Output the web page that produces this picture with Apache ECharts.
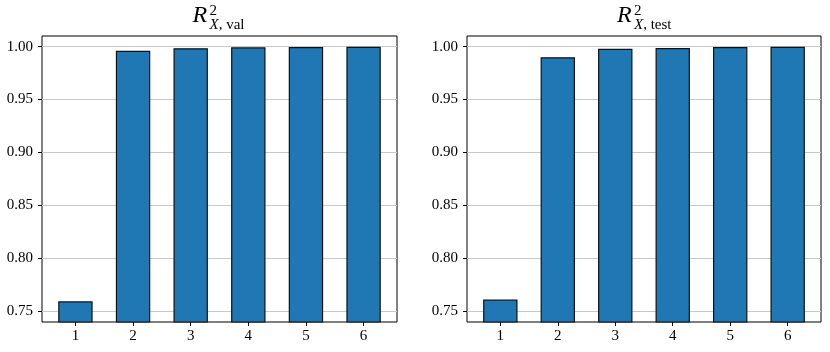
<!DOCTYPE html>
<html>
<head>
<meta charset="utf-8">
<script src="https://cdn.jsdelivr.net/npm/echarts@6/dist/echarts.min.js"></script>
<style>
  html, body { margin: 0; padding: 0; background: #fff; }
  #J_chart { width: 830px; height: 352px; }
</style>
</head>
<body>
<div id="J_chart"></div>
<script>
'use strict';

var categories = [1, 2, 3, 4, 5, 6];
var valScores = [0.7592, 0.9962, 0.9985, 0.9994, 0.9997, 0.9999];
var testScores = [0.7608, 0.9900, 0.9980, 0.9988, 0.9996, 0.9999];
var yTicks = [0.75, 0.80, 0.85, 0.90, 0.95, 1.00];
var titleSubs = ['X, val', 'X, test'];

var _font = 'Liberation Serif';
var _blue = '#1f77b4';

var panels = [
  {left: 42, width: 355, data: valScores},
  {left: 467, width: 354, data: testScores}
];

function buildTitle(p, sub) {
  var cx = p.left + p.width / 2;
  var x0 = cx - 27;
  return [
    {type: 'text', left: x0, top: 4, style: {
      text: 'R', font: 'italic 24px "' + _font + '"', fill: '#000'}},
    {type: 'text', left: x0 + 17, top: 4, style: {
      text: '2', font: '15px "' + _font + '"', fill: '#000'}},
    {type: 'text', left: x0 + 17, top: 18, style: {
      rich: {
        i: {fontFamily: _font, fontStyle: 'italic', fontSize: 15, fill: '#000'},
        r: {fontFamily: _font, fontSize: 15, fill: '#000'}
      },
      text: '{i|' + sub.split(',')[0] + '}{r|,' + sub.split(',')[1] + '}'
    }}
  ];
}

var chart = echarts.init(document.getElementById('J_chart'), null, {renderer: 'canvas'});

var option = {
  animation: false,
  grid: [],
  xAxis: [],
  yAxis: [],
  series: [],
  graphic: []
};

panels.forEach(function(p, i) {
  option.grid.push({
    left: p.left, top: 36, width: p.width, height: 286,
    show: true, borderColor: '#000', borderWidth: 1, backgroundColor: 'transparent'
  });
  option.xAxis.push({
    type: 'value', gridIndex: i, min: 0.42, max: 6.58,
    axisLine: {show: false},
    splitLine: {show: false},
    axisTick: {show: true, length: 4, lineStyle: {color: '#000'}, customValues: categories},
    axisLabel: {color: '#000', fontFamily: _font, fontSize: 15, margin: 7, customValues: categories}
  });
  option.yAxis.push({
    type: 'value', gridIndex: i, min: 0.7396, max: 1.0101,
    axisLine: {show: false},
    splitLine: {show: false},
    axisTick: {show: true, length: 4, lineStyle: {color: '#000'}, customValues: yTicks},
    axisLabel: {
      color: '#000', fontFamily: _font, fontSize: 15, margin: 9, customValues: yTicks,
      formatter: function(v){ return v.toFixed(2); }
    }
  });
  option.series.push({
    type: 'bar',
    xAxisIndex: i, yAxisIndex: i,
    barWidth: 34.4,
    z: 3,
    itemStyle: {color: _blue, borderColor: '#111', borderWidth: 1.2},
    data: categories.map(function(c, k){ return [c, p.data[k]]; }),
    markLine: {
      silent: true, symbol: 'none', z: 1,
      label: {show: false},
      lineStyle: {color: '#c8c8c8', width: 1, type: 'solid'},
      data: yTicks.map(function(t){ return {yAxis: t}; })
    }
  });
  option.graphic = option.graphic.concat(buildTitle(p, titleSubs[i]));
});

chart.setOption(option);
</script>
</body>
</html>
